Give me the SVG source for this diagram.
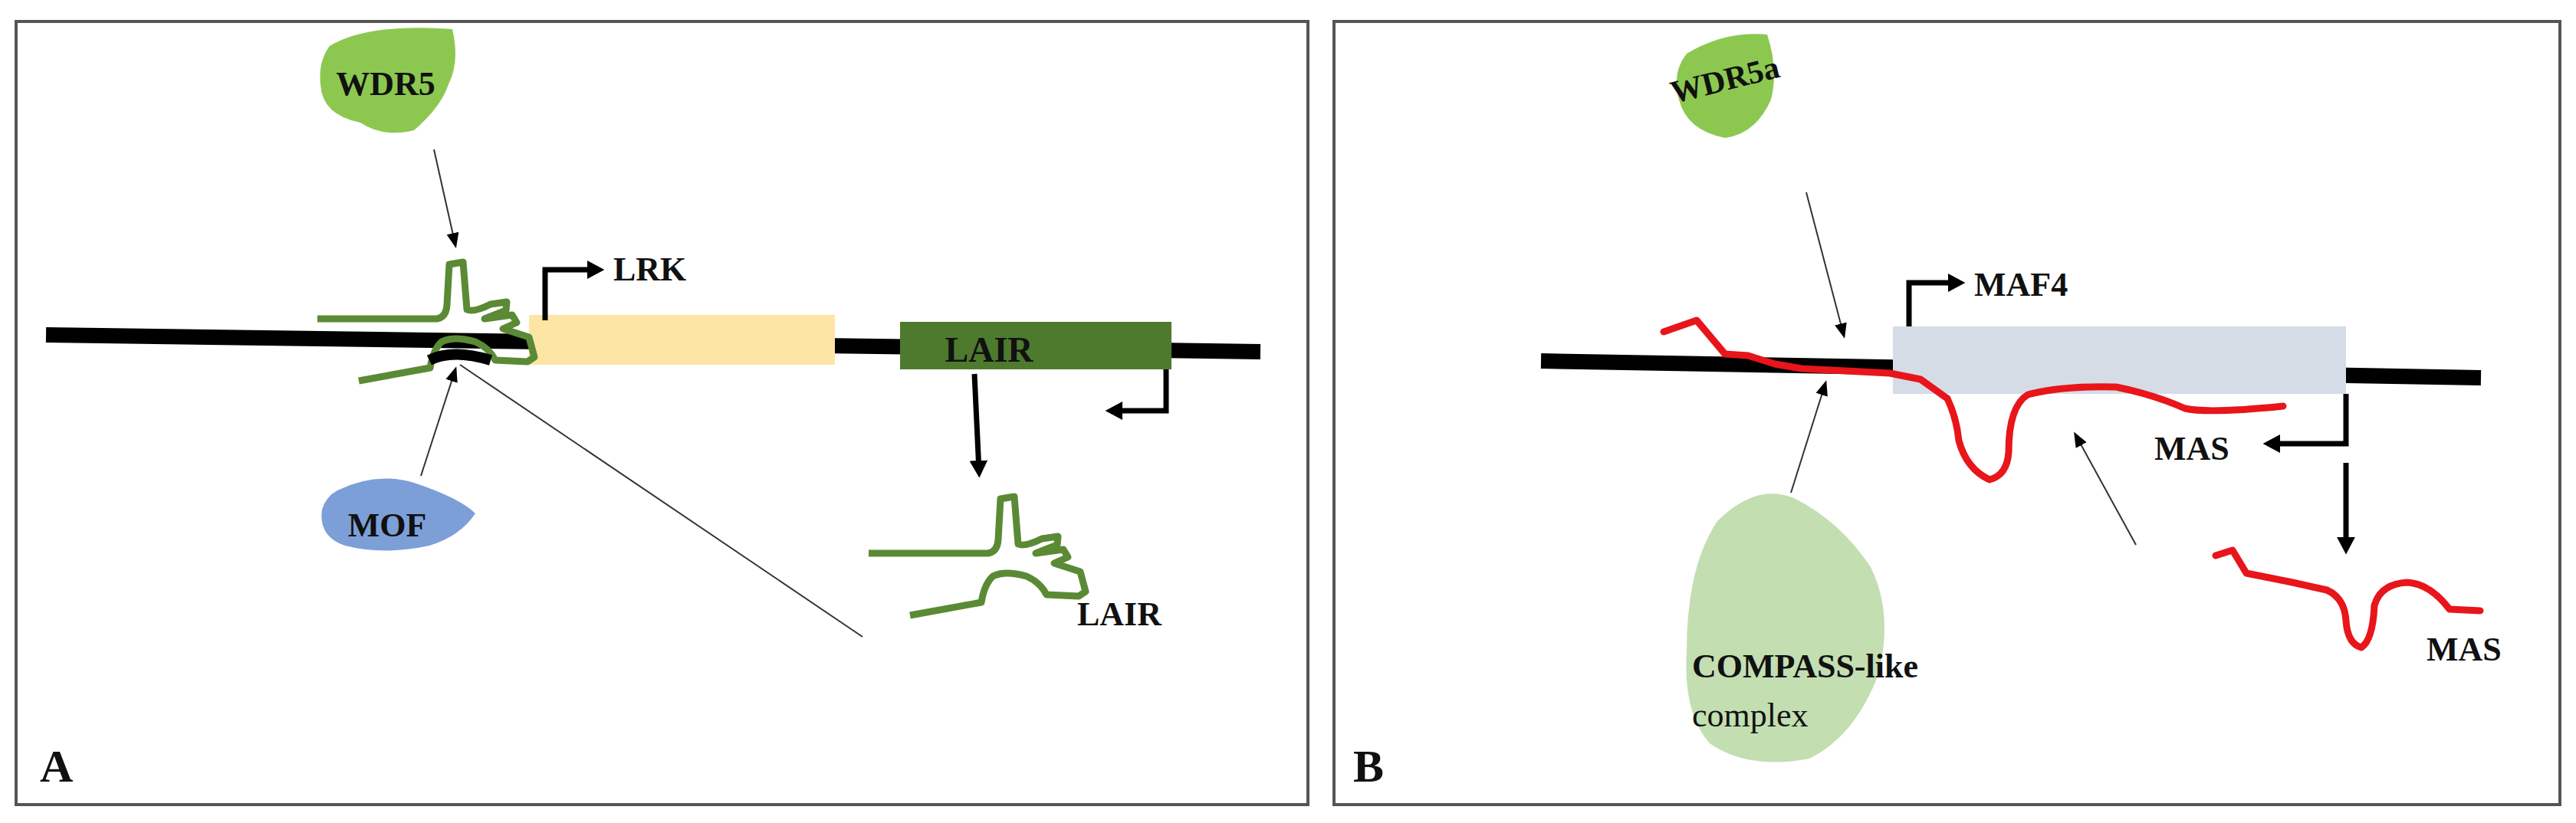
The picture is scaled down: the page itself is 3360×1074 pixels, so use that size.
<svg xmlns="http://www.w3.org/2000/svg" width="3360" height="1074" viewBox="0 0 3360 1074">
<defs>
<marker id="thk" markerWidth="4" markerHeight="4" refX="2" refY="2" orient="auto" markerUnits="strokeWidth"><path d="M0,0.3 L3.2,2 L0,3.7 Z" fill="#000"/></marker>
<marker id="thn" markerWidth="10" markerHeight="10" refX="8" refY="5" orient="auto" markerUnits="strokeWidth"><path d="M0,1 L10,5 L0,9 Z" fill="#000"/></marker>
<path id="loop" d="M414,416 L570,416 Q582,414 583,398 L586,345 L604,342 L609,404 Q618,408 640,397 L661,394 L660,405 L632,416 L668,411 L674,421 L656,429 L690,440 L697,466 L688,472 L646,470 Q638,454 620,446 Q592,438 576,446 Q565,456 561,480 L468,497"/>
</defs>
<style>
.frame{fill:#fff;stroke:#555;stroke-width:4}
.dna{stroke:#000;stroke-width:20;fill:none}
.t{font-family:"Liberation Serif",serif;font-weight:bold;fill:#111}
.thin{stroke:#333;stroke-width:2;fill:none}
.prom{stroke:#000;stroke-width:7;fill:none;marker-end:url(#thk)}
.grna{stroke:#5b8a35;stroke-width:9;fill:none;stroke-linejoin:round}
.rrna{stroke:#e8151b;stroke-width:9;fill:none;stroke-linejoin:round;stroke-linecap:round}
</style>
<rect width="3360" height="1074" fill="#fff"/>
<g id="panelA">
<rect class="frame" x="21" y="28" width="1685" height="1022"/>
<line class="dna" x1="60" y1="437" x2="1644" y2="459"/>
<rect id="lrk-box" x="690" y="411" width="399" height="65" fill="#fde5a5"/>
<g id="lair-box"><rect x="1174" y="420" width="354" height="62" fill="#4e7a2e"/><text class="t" x="1290" y="472" font-size="46" text-anchor="middle">LAIR</text></g>
<g id="lrk"><text class="t" x="800" y="366" font-size="44">LRK</text></g>
<g id="wdr5"><path d="M430,60 Q480,30 590,38 Q600,80 585,110 Q575,140 540,170 Q500,180 470,160 Q420,150 418,110 Q415,80 430,60Z" fill="#8cc850"/><text class="t" x="503" y="124" font-size="44" text-anchor="middle">WDR5</text></g>
<g id="mof"><path d="M440,640 Q490,615 540,630 Q600,650 620,670 Q600,700 560,712 Q500,725 450,712 Q415,700 420,665 Q425,648 440,640Z" fill="#7d9fd8"/><text class="t" x="505" y="700" font-size="44" text-anchor="middle">MOF</text></g>
<use href="#loop" class="grna"/>
<path d="M560,470 Q590,455 640,470" stroke="#000" stroke-width="14" fill="none"/>
<g id="lair-rna"><use href="#loop" class="grna" transform="translate(719,306)"/><text class="t" x="1405" y="816" font-size="44">LAIR</text></g>
<text class="t" x="52" y="1020" font-size="60">A</text>
</g>
<g id="panelB">
<rect class="frame" x="1740" y="28" width="1599" height="1022"/>
<line class="dna" x1="2010" y1="471" x2="3236" y2="493"/>
<rect id="maf4-box" x="2469" y="426" width="591" height="88" fill="#d5dce6"/>
<g id="maf4"><text class="t" x="2575" y="386" font-size="44">MAF4</text></g>
<g id="mas-label"><text class="t" x="2810" y="600" font-size="44">MAS</text></g>
<g id="wdr5a"><path d="M2200,70 Q2250,40 2305,45 Q2320,90 2310,130 Q2290,175 2250,180 Q2200,170 2190,130 Q2180,95 2200,70Z" fill="#8cc850"/><text class="t" x="2250" y="118" font-size="42" text-anchor="middle" transform="rotate(-14 2250 105)">WDR5a</text></g>
<g id="compass"><path d="M2240,680 Q2290,630 2340,650 Q2400,680 2440,740 Q2470,800 2450,880 Q2420,960 2360,990 Q2280,1005 2230,970 Q2195,930 2200,850 Q2200,740 2240,680Z" fill="#c3deb1"/><text class="t" x="2207" y="884" font-size="44">COMPASS-like</text><text x="2207" y="948" font-size="44" font-family="Liberation Serif,serif" fill="#111">complex</text></g>
<path class="rrna" d="M2170,433 L2213,418 L2250,462 L2280,464 L2315,475 L2350,481 L2465,487 L2505,495 L2540,520 Q2552,545 2555,575 Q2565,612 2595,626 Q2618,620 2620,590 Q2620,530 2645,515 Q2690,503 2760,505 Q2810,515 2850,533 Q2880,540 2978,530"/>
<g id="mas-rna"><path class="rrna" d="M2890,725 L2912,718 L2930,748 L2990,760 L3035,770 Q3058,780 3060,810 Q3062,840 3080,845 Q3095,835 3097,790 Q3105,762 3140,760 Q3170,762 3195,795 L3235,797"/><text class="t" x="3165" y="862" font-size="44">MAS</text></g>
<text class="t" x="1765" y="1020" font-size="60">B</text>
</g>
<g id="connectors">
<path class="prom" d="M711,418 L711,352 L780,352"/>
<path class="prom" d="M1521,482 L1521,536 L1450,536"/>
<path class="prom" d="M1271,488 L1277,615"/>
<line class="thin" x1="566" y1="195" x2="594" y2="320" marker-end="url(#thn)"/>
<line class="thin" x1="549" y1="621" x2="594" y2="482" marker-end="url(#thn)"/>
<line class="thin" x1="1125" y1="831" x2="600" y2="476"/>
<path class="prom" d="M2490,426 L2490,369 L2555,369"/>
<path class="prom" d="M3060,514 L3060,579 L2960,579"/>
<path class="prom" d="M3060,604 L3060,715"/>
<line class="thin" x1="2356" y1="251" x2="2405" y2="438" marker-end="url(#thn)"/>
<line class="thin" x1="2336" y1="643" x2="2381" y2="500" marker-end="url(#thn)"/>
<line class="thin" x1="2786" y1="711" x2="2707" y2="567" marker-end="url(#thn)"/>
</g>
</svg>
